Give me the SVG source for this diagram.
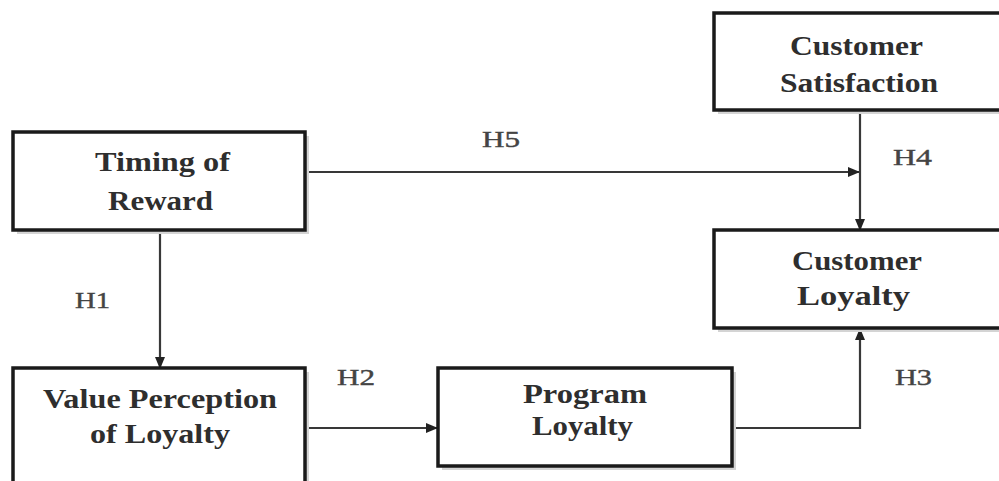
<svg xmlns="http://www.w3.org/2000/svg" width="999" height="481" viewBox="0 0 999 481">
<defs>
<style>
.shadow{fill:#d4d4d4}
.box{fill:#fff;stroke:#1a1a1a;stroke-width:3.5}
.nt{font-family:"Liberation Serif","Times New Roman",serif;font-weight:bold;font-size:28px;fill:#2e2e2e}
.lb{font-family:"Liberation Serif","Times New Roman",serif;font-size:23px;fill:#444;stroke:#444;stroke-width:0.4}
.cn{fill:none;stroke:#383838;stroke-width:2.2}
</style>
<marker id="ah" markerWidth="12" markerHeight="10" refX="11" refY="5" orient="auto" markerUnits="userSpaceOnUse">
<path d="M0,0 L12,5 L0,10 Z" fill="#222"/>
</marker>
</defs>
<rect width="999" height="481" fill="#fff"/>
<g id="connectors">
<path class="cn" d="M160,232 V368" marker-end="url(#ah)"/>
<path class="cn" d="M307,172 H859" marker-end="url(#ah)"/>
<path class="cn" d="M860,112 V230" marker-end="url(#ah)"/>
<path class="cn" d="M307,428 H437" marker-end="url(#ah)"/>
<path class="cn" d="M734,428 H860 V329" marker-end="url(#ah)"/>
</g>
<g id="labels">
<text class="lb" x="482" y="147" textLength="38" lengthAdjust="spacingAndGlyphs">H5</text>
<text class="lb" x="893" y="165" textLength="39" lengthAdjust="spacingAndGlyphs">H4</text>
<text class="lb" x="75" y="308" textLength="35" lengthAdjust="spacingAndGlyphs">H1</text>
<text class="lb" x="337" y="385" textLength="38" lengthAdjust="spacingAndGlyphs">H2</text>
<text class="lb" x="895" y="385" textLength="37" lengthAdjust="spacingAndGlyphs">H3</text>
</g>
<g id="timing">
<rect class="shadow" x="17" y="136" width="292" height="98"/>
<rect class="box" x="13" y="132" width="292" height="98"/>
<text class="nt" x="95" y="171" textLength="135" lengthAdjust="spacingAndGlyphs">Timing of</text>
<text class="nt" x="108" y="210" textLength="105" lengthAdjust="spacingAndGlyphs">Reward</text>
</g>
<g id="satisfaction">
<rect class="shadow" x="718" y="17" width="290" height="97"/>
<rect class="box" x="714" y="13" width="290" height="97"/>
<text class="nt" x="790" y="55" textLength="133" lengthAdjust="spacingAndGlyphs">Customer</text>
<text class="nt" x="780" y="92" textLength="158" lengthAdjust="spacingAndGlyphs">Satisfaction</text>
</g>
<g id="customer-loyalty">
<rect class="shadow" x="718" y="234" width="290" height="98"/>
<rect class="box" x="714" y="230" width="290" height="98"/>
<text class="nt" x="792" y="270" textLength="130" lengthAdjust="spacingAndGlyphs">Customer</text>
<text class="nt" x="797" y="305" textLength="113" lengthAdjust="spacingAndGlyphs">Loyalty</text>
</g>
<g id="value-perception">
<rect class="shadow" x="17" y="372" width="292" height="130"/>
<rect class="box" x="13" y="368" width="292" height="130"/>
<text class="nt" x="43" y="408" textLength="234" lengthAdjust="spacingAndGlyphs">Value Perception</text>
<text class="nt" x="90" y="443" textLength="140" lengthAdjust="spacingAndGlyphs">of Loyalty</text>
</g>
<g id="program-loyalty">
<rect class="shadow" x="442" y="372" width="294" height="98"/>
<rect class="box" x="438" y="368" width="294" height="98"/>
<text class="nt" x="523" y="403" textLength="124" lengthAdjust="spacingAndGlyphs">Program</text>
<text class="nt" x="532" y="435" textLength="101" lengthAdjust="spacingAndGlyphs">Loyalty</text>
</g>
</svg>
